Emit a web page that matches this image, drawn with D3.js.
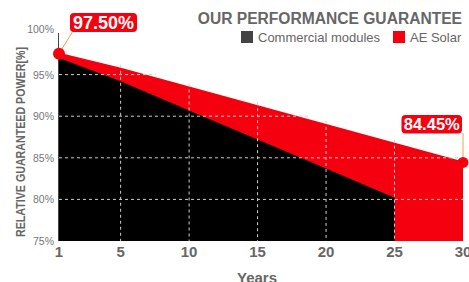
<!DOCTYPE html>
<html>
<head>
<meta charset="utf-8">
<script src="https://cdn.jsdelivr.net/npm/d3@7"></script>
<style>
  body { margin: 0; background: #fff; }
  svg { display: block; font-family: "Liberation Sans", Arial, sans-serif; }
</style>
</head>
<body>
<svg id="chart" width="469" height="282"></svg>
<script>
// chart values
var years = [1, 5, 10, 15, 20, 25, 30];
var aeSolar = [97.5, 95.7, 93.45, 91.2, 88.95, 86.7, 84.45];
var commercialYears = [1, 5, 10, 15, 20, 25];
var commercial = [97, 94.2, 90.7, 87.2, 83.7, 80.2];
var yTicks = [75, 80, 85, 90, 95, 100];
var xTicks = [1, 5, 10, 15, 20, 25, 30];
var gridYears = [5, 10, 15, 20, 25];
var gridPct = [80, 85, 90, 95];

var RED = "#f4000e";
var GREY = "#666";

var svg = d3.select("#chart");

var x = d3.scaleLinear().domain([0.5, 30]).range([59, 463]);
var y = d3.scaleLinear().domain([75, 100]).range([241, 33]);
// the first year sits on the axis origin, like the original
function xPos(yr) { return x(yr === 1 ? 0.5 : yr); }

var aeData = years.map(function (d, i) { return {year: d, v: aeSolar[i]}; });
var comData = commercialYears.map(function (d, i) { return {year: d, v: commercial[i]}; });

var area = d3.area()
    .x(function (d) { return xPos(d.year); })
    .y0(y(75))
    .y1(function (d) { return y(d.v); });

svg.append("path").datum(aeData).attr("d", area).attr("fill", RED);
svg.append("path").datum(aeData)
   .attr("d", d3.line().x(function (d) { return xPos(d.year); }).y(function (d) { return y(d.v); }))
   .attr("fill", "none").attr("stroke", RED).attr("stroke-width", 2);
svg.append("path").datum(comData).attr("d", area).attr("fill", "#000");

// where the AE line crosses a percentage (for grid line length)
var crossX = d3.scaleLinear().domain(aeSolar.slice().reverse()).range(years.map(xPos).reverse()).clamp(true);
var aeAt = d3.scaleLinear().domain(years.map(xPos)).range(aeSolar);

svg.selectAll(".gx").data(gridYears).enter().append("line")
   .attr("x1", function (d) { return x(d); }).attr("x2", function (d) { return x(d); })
   .attr("y1", function (d) { return y(aeAt(x(d))) - 4; }).attr("y2", y(75))
   .attr("stroke", "#cfcfcf").attr("stroke-dasharray", "3,3");
svg.selectAll(".gy").data(gridPct).enter().append("line")
   .attr("x1", x(0.5)).attr("x2", function (d) { return Math.min(crossX(d) + 14, 463); })
   .attr("y1", function (d) { return y(d); }).attr("y2", function (d) { return y(d); })
   .attr("stroke", "#cfcfcf").attr("stroke-dasharray", "3,3");

// y axis
svg.append("line").attr("x1", 58.5).attr("x2", 58.5).attr("y1", y(100)).attr("y2", y(75))
   .attr("stroke", "#444");
svg.selectAll(".yt").data(yTicks).enter().append("text")
   .attr("x", 54).attr("y", function (d) { return y(d) + (d === 100 ? 0 : 4); }) // top label sits a bit higher
   .attr("text-anchor", "end").attr("fill", "#777").style("font-size", "10.5px")
   .text(function (d) { return d + "%"; });

// x axis labels
svg.selectAll(".xt").data(xTicks).enter().append("text")
   .attr("x", function (d) { return xPos(d); }).attr("y", 257)
   .attr("text-anchor", "middle").attr("fill", GREY)
   .style("font-size", "15px").style("font-weight", "bold")
   .text(function (d) { return d; });

svg.append("text").attr("x", 257).attr("y", 282.5).attr("text-anchor", "middle")
   .attr("fill", GREY).style("font-size", "15px").style("font-weight", "bold").text("Years");

svg.append("text").attr("transform", "translate(25,142) rotate(-90)")
   .attr("text-anchor", "middle").attr("fill", GREY)
   .attr("textLength", 190).attr("lengthAdjust", "spacingAndGlyphs")
   .style("font-size", "12.5px").style("font-weight", "bold")
   .text("RELATIVE GUARANTEED POWER[%]");

// title + legend
svg.append("text").attr("x", 462).attr("y", 23.5).attr("text-anchor", "end")
   .attr("fill", GREY).style("font-size", "15.6px").style("font-weight", "bold")
   .text("OUR PERFORMANCE GUARANTEE");
svg.append("rect").attr("x", 241).attr("y", 31).attr("width", 12).attr("height", 12).attr("fill", "#444");
svg.append("text").attr("x", 258).attr("y", 41.5).attr("fill", GREY).style("font-size", "13px").text("Commercial modules");
svg.append("rect").attr("x", 393).attr("y", 31).attr("width", 12).attr("height", 12).attr("fill", RED);
svg.append("text").attr("x", 410).attr("y", 41.5).attr("fill", GREY).style("font-size", "13px").text("AE Solar");

// end-point callouts
var first = aeData[0], last = aeData[aeData.length - 1];
svg.append("line").attr("x1", xPos(first.year)).attr("y1", y(first.v))
   .attr("x2", 73).attr("y2", 31).attr("stroke", "#eba24a");
svg.append("line").attr("x1", xPos(last.year)).attr("y1", y(last.v))
   .attr("x2", xPos(last.year)).attr("y2", 133).attr("stroke", "#eba24a");

svg.append("circle").attr("cx", xPos(first.year)).attr("cy", y(first.v)).attr("r", 6).attr("fill", RED);
svg.append("circle").attr("cx", xPos(last.year)).attr("cy", y(last.v)).attr("r", 5.5).attr("fill", RED);

function callout(bx, by, w, h, size, label) {
  svg.append("rect").attr("x", bx).attr("y", by).attr("width", w).attr("height", h)
     .attr("rx", 4).attr("fill", RED);
  svg.append("text").attr("x", bx + w / 2).attr("y", by + h / 2 + size * 0.36)
     .attr("text-anchor", "middle").attr("fill", "#fff")
     .style("font-size", size + "px").style("font-weight", "bold").text(label);
}
callout(70, 13, 67, 19, 18, first.v.toFixed(2) + "%");
callout(401.5, 115, 60.5, 18.5, 16.5, last.v.toFixed(2) + "%");
</script>
</body>
</html>
